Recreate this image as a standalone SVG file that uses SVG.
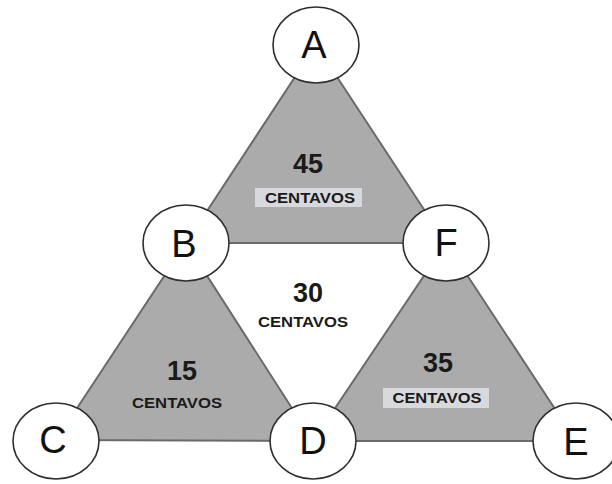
<svg xmlns="http://www.w3.org/2000/svg" width="612" height="484" viewBox="0 0 612 484">
<style>
.tri{fill:#ababab;stroke:#6a6a6a;stroke-width:2;stroke-linejoin:round}
.node{fill:#fff;stroke:#2e2e2e;stroke-width:1.6}
.lbl{font-family:"Liberation Sans",Arial,sans-serif;font-size:38px;fill:#111;text-anchor:middle}
.num{font-family:"Liberation Sans",Arial,sans-serif;font-weight:bold;font-size:27px;fill:#1a1a1a;text-anchor:middle}
.cen{font-family:"Liberation Sans",Arial,sans-serif;font-weight:bold;font-size:15px;fill:#1a1a1a;text-anchor:middle}
.hl{fill:#d8d9dc}
</style>
<rect width="612" height="484" fill="#fff"/>
<g id="connectors">
<polygon class="tri" points="316,45 186,243 446,243"/>
<polygon class="tri" points="186,243 56,440 313,441"/>
<polygon class="tri" points="446,243 313,441 576,441"/>
</g>
<g id="region-top">
<rect class="hl" x="255" y="188" width="107" height="19"/>
<text class="num" x="308" y="173">45</text>
<text class="cen" x="310" y="203" textLength="90" lengthAdjust="spacingAndGlyphs">CENTAVOS</text>
</g>
<g id="region-middle">
<text class="num" x="308" y="302">30</text>
<text class="cen" x="303" y="327" textLength="90" lengthAdjust="spacingAndGlyphs">CENTAVOS</text>
</g>
<g id="region-left">
<text class="num" x="182" y="380">15</text>
<text class="cen" x="177" y="408" textLength="90" lengthAdjust="spacingAndGlyphs">CENTAVOS</text>
</g>
<g id="region-right">
<rect class="hl" x="383" y="388" width="106" height="20"/>
<text class="num" x="438" y="372">35</text>
<text class="cen" x="437" y="403" textLength="89" lengthAdjust="spacingAndGlyphs">CENTAVOS</text>
</g>
<g id="node-A"><ellipse class="node" cx="316" cy="45" rx="43" ry="38"/><text class="lbl" x="314" y="58">A</text></g>
<g id="node-B"><ellipse class="node" cx="186" cy="243" rx="43" ry="38"/><text class="lbl" x="184" y="257">B</text></g>
<g id="node-F"><ellipse class="node" cx="446" cy="243" rx="43" ry="38"/><text class="lbl" x="446" y="256">F</text></g>
<g id="node-C"><ellipse class="node" cx="56" cy="441" rx="43" ry="38"/><text class="lbl" x="53" y="453">C</text></g>
<g id="node-D"><ellipse class="node" cx="313" cy="441" rx="43" ry="38"/><text class="lbl" x="313" y="454">D</text></g>
<g id="node-E"><ellipse class="node" cx="576" cy="441" rx="43" ry="38"/><text class="lbl" x="576" y="455">E</text></g>
</svg>
